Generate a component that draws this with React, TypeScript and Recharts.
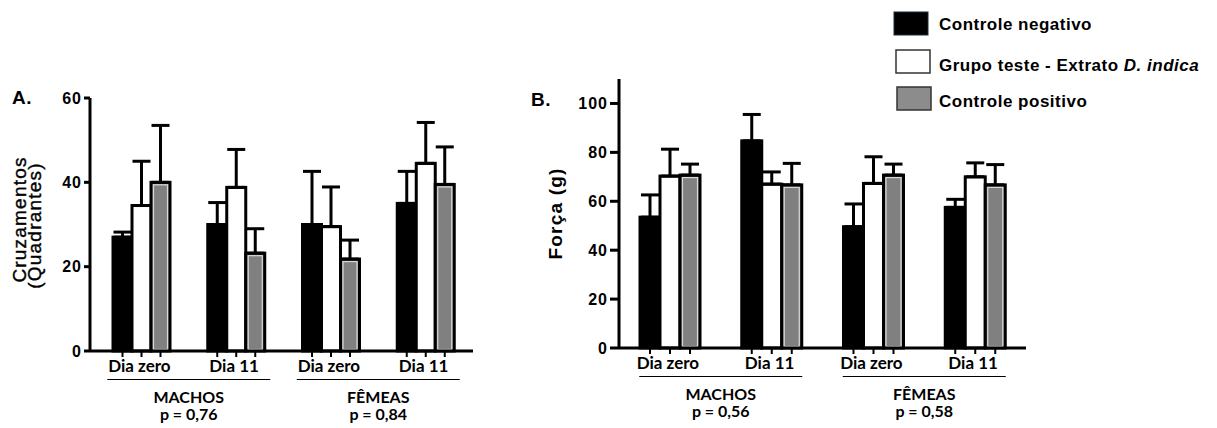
import React from "react";
import { Bar, BarChart, ErrorBar, XAxis, YAxis } from "recharts";

// categorias e rótulos
const categories = ["Dia zero", "Dia 11", "Dia zero", "Dia 11"];
const groups = ["MACHOS", "FÊMEAS"];
const pValuesA = ["p = 0,76", "p = 0,84"];
const pValuesB = ["p = 0,56", "p = 0,58"];
const seriesNames = ["Controle negativo", "Grupo teste - Extrato ", "Controle positivo"];

// A. Cruzamentos (Quadrantes)
const cruzNeg = [27, 30, 30, 35];
const cruzNegErr = [1.2, 5.2, 12.6, 7.6];
const cruzTest = [34.5, 38.8, 29.5, 44.5];
const cruzTestErr = [10.5, 9, 9.4, 9.7];
const cruzPos = [40, 23.2, 21.8, 39.5];
const cruzPosErr = [13.5, 5.8, 4.5, 8.9];

// B. Força (g)
const forcaNeg = [53.5, 84.7, 49.6, 57.5];
const forcaNegErr = [9.1, 10.8, 9.3, 3.3];
const forcaTest = [70.3, 67, 67.3, 70];
const forcaTestErr = [11, 5, 10.9, 5.7];
const forcaPos = [70.7, 66.7, 70.7, 66.7];
const forcaPosErr = [4.5, 8.8, 4.5, 8.3];

const ticksA = [0, 20, 40, 60];
const ticksB = [0, 20, 40, 60, 80, 100];

const buildRows = (
  neg: number[], negErr: number[],
  test: number[], testErr: number[],
  pos: number[], posErr: number[]
) =>
  categories.map((dia, i) => ({
    dia,
    neg: neg[i],
    test: test[i],
    pos: pos[i],
    negErr: [0, negErr[i]],
    testErr: [0, testErr[i]],
    posErr: [0, posErr[i]],
  }));

const rowsA = buildRows(cruzNeg, cruzNegErr, cruzTest, cruzTestErr, cruzPos, cruzPosErr);
const rowsB = buildRows(forcaNeg, forcaNegErr, forcaTest, forcaTestErr, forcaPos, forcaPosErr);

const LABEL_FONT = "Lato, 'Open Sans', sans-serif";
const TICK_FONT = "'Liberation Sans', Arial, sans-serif";

const BarShape = (props: any) => {
  const { x, y, width, height, kind } = props;
  const fill = kind === "neg" ? "#000" : kind === "test" ? "#fff" : "#808080";
  const cx = x + width / 2;
  return (
    <g>
      <rect x={x} y={y} width={width} height={height} fill={fill} stroke="#000" strokeWidth={3} />
      {kind === "pos" && (
        <rect x={x + 2.5} y={y + 2.5} width={width - 5} height={height - 4} fill="none" stroke="#d8d8d8" strokeWidth={1.2} />
      )}
      <line x1={cx} x2={cx} y1={y + height} y2={y + height + 6} stroke="#000" strokeWidth={2} />
    </g>
  );
};

const XTick = (props: any) => {
  const { x, y, payload, index, band, pValues } = props;
  const g = Math.floor(index / 2);
  const mid = x + band / 2;
  return (
    <g>
      <text x={x - 2} y={y + 21} textAnchor="middle" fontSize={17} fontFamily={LABEL_FONT} fontWeight={700} fill="#000">
        {payload.value}
      </text>
      {index % 2 === 0 && (
        <g>
          <line x1={mid - 81.5} x2={mid + 81.5} y1={y + 28.5} y2={y + 28.5} stroke="#000" strokeWidth={1} />
          <text x={mid} y={y + 52} textAnchor="middle" fontSize={16} fontFamily={LABEL_FONT} fontWeight={700} fill="#000">
            {groups[g]}
          </text>
          <text x={mid} y={y + 69} textAnchor="middle" fontSize={16} fontFamily={LABEL_FONT} fontWeight={700} fill="#000">
            {pValues[g]}
          </text>
        </g>
      )}
    </g>
  );
};

const RotText = ({ x, y, children, size, weight, spacing }: any) => (
  <text
    x={x}
    y={y}
    textAnchor="middle"
    dominantBaseline="central"
    fontFamily={TICK_FONT}
    fontSize={size}
    fontWeight={weight}
    letterSpacing={spacing}
    fill="#000"
    stroke="#000"
    strokeWidth={weight === 400 ? 0.4 : 0}
    transform={`rotate(-90, ${x}, ${y})`}
  >
    {children}
  </text>
);

const YLabelA = (props: any) => {
  const { viewBox } = props;
  const cy = viewBox.y + viewBox.height / 2;
  return (
    <g>
      <RotText x={19} y={cy - 5} size={19} weight={400} spacing={1.2}>Cruzamentos</RotText>
      <RotText x={34} y={cy + 1} size={19} weight={400} spacing={1.2}>(Quadrantes)</RotText>
    </g>
  );
};

const YLabelB = (props: any) => {
  const { viewBox } = props;
  const cy = viewBox.y + viewBox.height / 2;
  return (
    <RotText x={35} y={cy} size={19} weight={700} spacing={1.2}>
      Força (g)
    </RotText>
  );
};

const tickStyle = { fontFamily: TICK_FONT, fontWeight: 700, fontSize: 16, fill: "#000", letterSpacing: 1 };

const Series = (barSize: number) => [
  <Bar key="neg" dataKey="neg" barSize={barSize} isAnimationActive={false} shape={(p: any) => <BarShape {...p} kind="neg" />}>
    <ErrorBar dataKey="negErr" direction="y" width={9} strokeWidth={3} stroke="#000" />
  </Bar>,
  <Bar key="test" dataKey="test" barSize={barSize} isAnimationActive={false} shape={(p: any) => <BarShape {...p} kind="test" />}>
    <ErrorBar dataKey="testErr" direction="y" width={9} strokeWidth={3} stroke="#000" />
  </Bar>,
  <Bar key="pos" dataKey="pos" barSize={barSize} isAnimationActive={false} shape={(p: any) => <BarShape {...p} kind="pos" />}>
    <ErrorBar dataKey="posErr" direction="y" width={9} strokeWidth={3} stroke="#000" />
  </Bar>,
];

const Legend = () => (
  <svg width={1217} height={428} style={{ position: "absolute", left: 0, top: 0, pointerEvents: "none" }}>
    <g fontFamily={TICK_FONT} fontWeight={700} fontSize={17} fill="#000" letterSpacing={0.5}>
      <text x={12} y={104} fontSize={19}>A.</text>
      <text x={531} y={106} fontSize={19}>B.</text>
      <rect x={894} y={12} width={34} height={23} fill="#000" stroke="#1a2a3a" strokeWidth={1} />
      <text x={939} y={30}>{seriesNames[0]}</text>
      <rect x={896} y={50} width={34} height={23} fill="#fff" stroke="#333" strokeWidth={1.5} />
      <text x={939} y={71}>
        {seriesNames[1]}
        <tspan fontStyle="italic">D. indica</tspan>
      </text>
      <rect x={897} y={87} width={34} height={23} fill="#8c8c8c" stroke="#333" strokeWidth={1.5} />
      <text x={939} y={107}>{seriesNames[2]}</text>
    </g>
  </svg>
);

export default function App() {
  const padA = 4;
  const bandA = (500 - 27 - 90 - padA) / 4;
  const bandB = (520 - 14 - 99) / 4;
  return (
    <div style={{ position: "absolute", left: 0, top: 0, width: 1217, height: 428, background: "#fff", overflow: "hidden" }}>
      <div style={{ position: "absolute", left: 0, top: 0 }}>
        <BarChart width={500} height={428} data={rowsA} barGap={0} margin={{ top: 98, right: 27, bottom: 47, left: 0 }}>
          <XAxis
            dataKey="dia"
            height={30}
            padding={{ left: padA, right: 0 }}
            axisLine={{ stroke: "#000", strokeWidth: 3 }}
            tickLine={false}
            tickSize={0}
            tickMargin={0}
            interval={0}
            tick={(p: any) => <XTick {...p} band={bandA} pValues={pValuesA} />}
          />
          <YAxis
            width={90}
            domain={[0, 60]}
            ticks={ticksA}
            interval={0}
            axisLine={{ stroke: "#000", strokeWidth: 3 }}
            tickLine={{ stroke: "#000", strokeWidth: 3 }}
            tickSize={6}
            tick={tickStyle}
            label={<YLabelA />}
          />
          {Series(19)}
        </BarChart>
      </div>
      <div style={{ position: "absolute", left: 520, top: 0 }}>
        <BarChart width={520} height={428} data={rowsB} barGap={0} margin={{ top: 79, right: 14, bottom: 50, left: 0 }}>
          <XAxis
            dataKey="dia"
            height={30}
            axisLine={{ stroke: "#000", strokeWidth: 3 }}
            tickLine={false}
            tickSize={0}
            tickMargin={0}
            interval={0}
            tick={(p: any) => <XTick {...p} band={bandB} pValues={pValuesB} />}
          />
          <YAxis
            width={99}
            domain={[0, 110]}
            ticks={ticksB}
            interval={0}
            axisLine={{ stroke: "#000", strokeWidth: 3 }}
            tickLine={{ stroke: "#000", strokeWidth: 3 }}
            tickSize={9}
            tick={tickStyle}
            label={<YLabelB />}
          />
          {Series(20)}
        </BarChart>
      </div>
      <Legend />
    </div>
  );
}
